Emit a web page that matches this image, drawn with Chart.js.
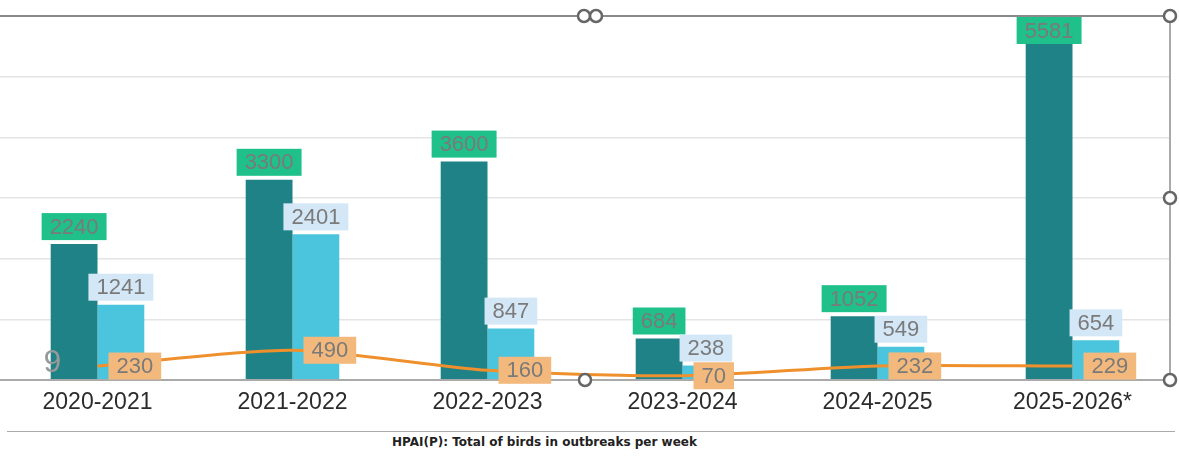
<!DOCTYPE html>
<html>
<head>
<meta charset="utf-8">
<script src="https://cdn.jsdelivr.net/npm/chart.js@4.4.1/dist/chart.umd.min.js"></script>
<style>
    body { margin: 0; background: #fff; font-family: "Liberation Sans", Arial, sans-serif; }
    #wrap { position: relative; width: 1179px; height: 431px; }
    #caption { position: absolute; left: 7px; top: 431px; width: 1168px; height: 24px; border-top: 1px solid #aaa; font-weight: bold; font-size: 12px; color: #222; font-family: "DejaVu Sans", Verdana, sans-serif; }
    #caption span { position: absolute; left: 385px; top: 3px; white-space: nowrap; }
</style>
</head>
<body>
<div id="wrap"><canvas id="chart"></canvas></div>
<div id="caption"><span>HPAI(P): Total of birds in outbreaks per week</span></div>
<script>
// Data
const seasons = ['2020-2021', '2021-2022', '2022-2023', '2023-2024', '2024-2025', '2025-2026*'];
const seriesDark = [2240, 3300, 3600, 684, 1052, 5581];
const seriesLight = [1241, 2401, 847, 238, 549, 654];
const weeklyLine = [230, 490, 160, 70, 232, 229];
const yTicks = [0, 1000, 2000, 3000, 4000, 5000, 6000];

const FONT = '"Liberation Sans", Arial, sans-serif';

// Boxed value labels (no datalabels plugin available offline)
const boxLabels = {
    id: 'boxLabels',
    afterDatasetsDraw(chart) {
        const { ctx, chartArea } = chart;
        ctx.save();
        ctx.font = '22px ' + FONT;
        ctx.textAlign = 'center';
        ctx.textBaseline = 'middle';
        chart.data.datasets.forEach((ds, i) => {
            const meta = chart.getDatasetMeta(i);
            meta.data.forEach((el, j) => {
                const text = String(ds.data[j]);
                const w = ctx.measureText(text).width + 16;
                const h = 27;
                let cx, cy;
                if (ds.type === 'line') {
                    cx = el.x + 11 + w / 2;
                    cy = el.y;
                } else {
                    cx = el.x;
                    cy = el.y - 4 - h / 2;
                    if (cy - h / 2 < chartArea.top + 1) cy = chartArea.top + 1 + h / 2;
                }
                ctx.fillStyle = ds.labelBg;
                ctx.fillRect(cx - w / 2, cy - h / 2, w, h);
                ctx.fillStyle = '#7a7a7a';
                ctx.fillText(text, cx, cy + 1);
            });
        });
        ctx.restore();
    }
};

// Selection frame and handles seen on the reference
const frameHandles = {
    id: 'frameHandles',
    afterDraw(chart) {
        const { ctx, chartArea } = chart;
        const { top, bottom, right, left } = chartArea;
        const mid = (left + right) / 2;
        ctx.save();
        ctx.strokeStyle = '#aaa';
        ctx.lineWidth = 2;
        ctx.beginPath();
        ctx.moveTo(right, top);
        ctx.lineTo(right, bottom);
        ctx.stroke();

        // stray "9" text
        ctx.fillStyle = '#999';
        ctx.font = '32px ' + FONT;
        ctx.textAlign = 'center';
        ctx.textBaseline = 'middle';
        ctx.fillText('9', chart.scales.x.getPixelForValue(0) - 45, bottom - 17);

        const handles = [
            [mid - 1, top], [mid + 11, top],
            [right, top], [right, (top + bottom) / 2], [right, bottom],
            [mid, bottom]
        ];
        ctx.strokeStyle = '#666';
        ctx.lineWidth = 2.5;
        ctx.fillStyle = '#fff';
        handles.forEach(([x, y]) => {
            ctx.beginPath();
            ctx.arc(x, y, 6, 0, Math.PI * 2);
            ctx.fill();
            ctx.stroke();
        });
        ctx.restore();
    }
};

new Chart(document.getElementById('chart'), {
    type: 'bar',
    data: {
        labels: seasons,
        datasets: [
            {
                type: 'line',
                label: 'Weekly',
                data: weeklyLine,
                borderColor: '#f0902c',
                borderWidth: 3,
                pointRadius: 0,
                tension: 0.25,
                order: 0,
                labelBg: '#f3b97c'
            },
            {
                label: 'Series A',
                data: seriesDark,
                backgroundColor: '#1f8287',
                categoryPercentage: 0.48,
                barPercentage: 1,
                order: 1,
                labelBg: '#1fc08a'
            },
            {
                label: 'Series B',
                data: seriesLight,
                backgroundColor: '#4bc5de',
                categoryPercentage: 0.48,
                barPercentage: 1,
                order: 1,
                labelBg: '#d4e7f7'
            }
        ]
    },
    options: {
        responsive: true,
        maintainAspectRatio: false,
        animation: false,
        layout: { padding: { top: 16, right: 9, left: 0, bottom: 0 } },
        plugins: {
            legend: { display: false },
            tooltip: { enabled: false },
            title: { display: false }
        },
        scales: {
            x: {
                grid: { display: false, drawTicks: false },
                border: { color: '#aaa', width: 2 },
                ticks: { color: '#2b2b2b', font: { size: 23, family: FONT }, padding: 9 },
                afterFit: (scale) => { scale.height = 51; }
            },
            y: {
                min: yTicks[0],
                max: yTicks[yTicks.length - 1],
                ticks: { display: false, stepSize: 1000 },
                border: { display: false },
                grid: {
                    drawTicks: false,
                    color: (c) => c.tick.value === 6000 ? '#8a8a8a' : (c.tick.value === 0 ? '#aaa' : '#e4e4e4'),
                    lineWidth: (c) => (c.tick.value === 6000 || c.tick.value === 0) ? 2 : 1.5
                },
                afterFit: (scale) => { scale.width = 0; }
            }
        }
    },
    plugins: [boxLabels, frameHandles]
});
</script>
</body>
</html>
